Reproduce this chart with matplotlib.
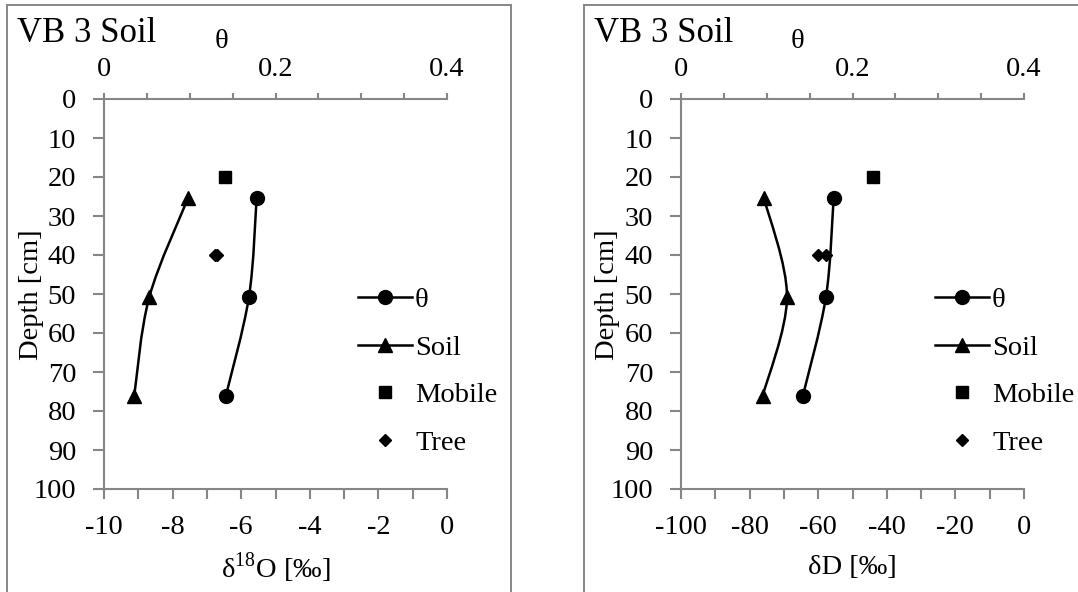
import matplotlib
matplotlib.use("Agg")
import matplotlib.pyplot as plt
from matplotlib.path import Path
from matplotlib.patches import PathPatch, Rectangle
from matplotlib.lines import Line2D
from matplotlib.ticker import MultipleLocator, FuncFormatter

plt.rcParams['font.family'] = ['Liberation Serif', 'DejaVu Serif']
plt.rcParams['mathtext.fontset'] = 'custom'
plt.rcParams['mathtext.rm'] = 'Liberation Serif'
plt.rcParams['axes.unicode_minus'] = False

# ---- data ----
panel_title = "VB 3 Soil"
depth_profile = [25.4, 50.8, 76.2]
theta = [0.178, 0.169, 0.142]
soil_d18o = [-7.55, -8.68, -9.12]
soil_dD = [-75.8, -69.1, -76.2]
mobile_depth = [20]
mobile_d18o = [-6.48]
mobile_dD = [-44.1]
tree_depth = [40, 40]
tree_d18o = [-6.76, -6.72]
tree_dD = [-60.1, -57.8]
legend_labels = ["θ", "Soil", "Mobile", "Tree"]

W, H = 1078, 592
GREY = "#868686"
FS = 20.5

fig = plt.figure(figsize=(W / 100, H / 100), dpi=100)


def fx(px):
    return px / W


def fy(py):
    return 1 - py / H


def smooth_path(xs, ys):
    """Cubic Bezier through the points (Catmull-Rom style smoothing)."""
    pts = list(zip(xs, ys))
    n = len(pts)
    verts = [pts[0]]
    codes = [Path.MOVETO]
    for i in range(n - 1):
        p0 = pts[i - 1] if i > 0 else pts[i]
        p1 = pts[i]
        p2 = pts[i + 1]
        p3 = pts[i + 2] if i + 2 < n else pts[i + 1]
        c1 = (p1[0] + (p2[0] - p0[0]) / 6, p1[1] + (p2[1] - p0[1]) / 6)
        c2 = (p2[0] - (p3[0] - p1[0]) / 6, p2[1] - (p3[1] - p1[1]) / 6)
        verts += [c1, c2, p2]
        codes += [Path.CURVE4] * 3
    return Path(verts, codes)


def panel(x0, frame, iso_vals, mob_vals, tree_vals, xlim, major, minor, xlabel):
    # frame around the panel
    fig.add_artist(Rectangle((fx(frame[0]), fy(frame[3])),
                             fx(frame[1] - frame[0]), (frame[3] - frame[2]) / H,
                             transform=fig.transFigure, fill=False,
                             ec=GREY, lw=1.4, clip_on=False))
    x1 = x0 + 343
    ytop, ybot = 99, 489
    ax = fig.add_axes([fx(x0), fy(ybot), fx(x1 - x0), (ybot - ytop) / H])
    ax.patch.set_visible(False)
    ax.set_xlim(*xlim)
    ax.set_ylim(100, 0)
    ax.xaxis.set_major_locator(MultipleLocator(major))
    ax.xaxis.set_minor_locator(MultipleLocator(minor))
    ax.yaxis.set_major_locator(MultipleLocator(10))
    ax.xaxis.set_major_formatter(FuncFormatter(lambda v, p: f"{v:g}"))
    for s in ("top", "right"):
        ax.spines[s].set_visible(False)
    for s in ("left", "bottom"):
        ax.spines[s].set_color(GREY)
        ax.spines[s].set_linewidth(1.5)
    ax.tick_params(axis="x", which="both", direction="out", length=7,
                   width=1.5, color=GREY, labelsize=FS, pad=12)
    ax.tick_params(axis="y", which="both", direction="out", length=8,
                   width=1.5, color=GREY, labelsize=FS, pad=12)

    tw = ax.twiny()
    tw.set_xlim(0, 0.4)
    tw.xaxis.set_major_locator(MultipleLocator(0.2))
    tw.xaxis.set_minor_locator(MultipleLocator(0.05))
    tw.xaxis.set_major_formatter(FuncFormatter(lambda v, p: f"{v:g}"))
    for s in ("bottom", "left", "right"):
        tw.spines[s].set_visible(False)
    tw.spines["top"].set_color(GREY)
    tw.spines["top"].set_linewidth(1.5)
    tw.tick_params(axis="x", which="both", direction="out", length=4.5,
                   width=1.5, color=GREY, labelsize=FS, pad=8)

    # soil profile (smoothed line) and markers
    ax.add_patch(PathPatch(smooth_path(iso_vals, depth_profile), fill=False,
                           ec="black", lw=1.8, zorder=3))
    ax.plot(iso_vals, depth_profile, ls="none", marker="^", ms=9.5,
            color="black", zorder=4)
    ax.plot(mob_vals, mobile_depth, ls="none", marker="s", ms=8.5,
            color="black", zorder=4)
    ax.plot(tree_vals, tree_depth, ls="none", marker="D", ms=6.5,
            color="black", zorder=4)

    # water content on the top axis
    tw.add_patch(PathPatch(smooth_path(theta, depth_profile), fill=False,
                           ec="black", lw=1.8, zorder=3))
    tw.plot(theta, depth_profile, ls="none", marker="o", ms=10,
            color="black", zorder=4)

    # text
    fig.text(fx(x0 - 87), fy(42), panel_title, fontsize=25, ha="left",
             va="baseline")
    fig.text(fx(x0 + 117), fy(42), "θ", fontsize=FS, ha="center",
             va="center")
    fig.text(fx(x0 - 73), fy(295), "Depth [cm]", fontsize=FS, ha="center",
             va="center", rotation=90)
    fig.text(fx((x0 + x1) / 2), fy(568), xlabel, fontsize=FS, ha="center",
             va="center")

    handles = [
        Line2D([], [], color="black", lw=1.8, marker="o", ms=10),
        Line2D([], [], color="black", lw=1.8, marker="^", ms=9.5),
        Line2D([], [], color="black", ls="none", marker="s", ms=8.5),
        Line2D([], [], color="black", ls="none", marker="D", ms=6.5),
    ]
    ax.legend(handles, legend_labels, loc="upper left",
              bbox_to_anchor=(fx(x0 + 254), fy(287)),
              bbox_transform=fig.transFigure, frameon=False, fontsize=FS,
              borderpad=0, borderaxespad=0, handlelength=1.9,
              handletextpad=0.1, labelspacing=0.76, numpoints=1)
    return ax


panel(104, (6.5, 510.5, 5, 700), soil_d18o, mobile_d18o, tree_d18o,
      (-10, 0), 2, 1, r"δ$^{\mathrm{18}}$O [‰]")
panel(681, (583.5, 1200, 5, 700), soil_dD, mobile_dD, tree_dD,
      (-100, 0), 20, 10, "δD [‰]")

fig.savefig("out.png", dpi=100)
